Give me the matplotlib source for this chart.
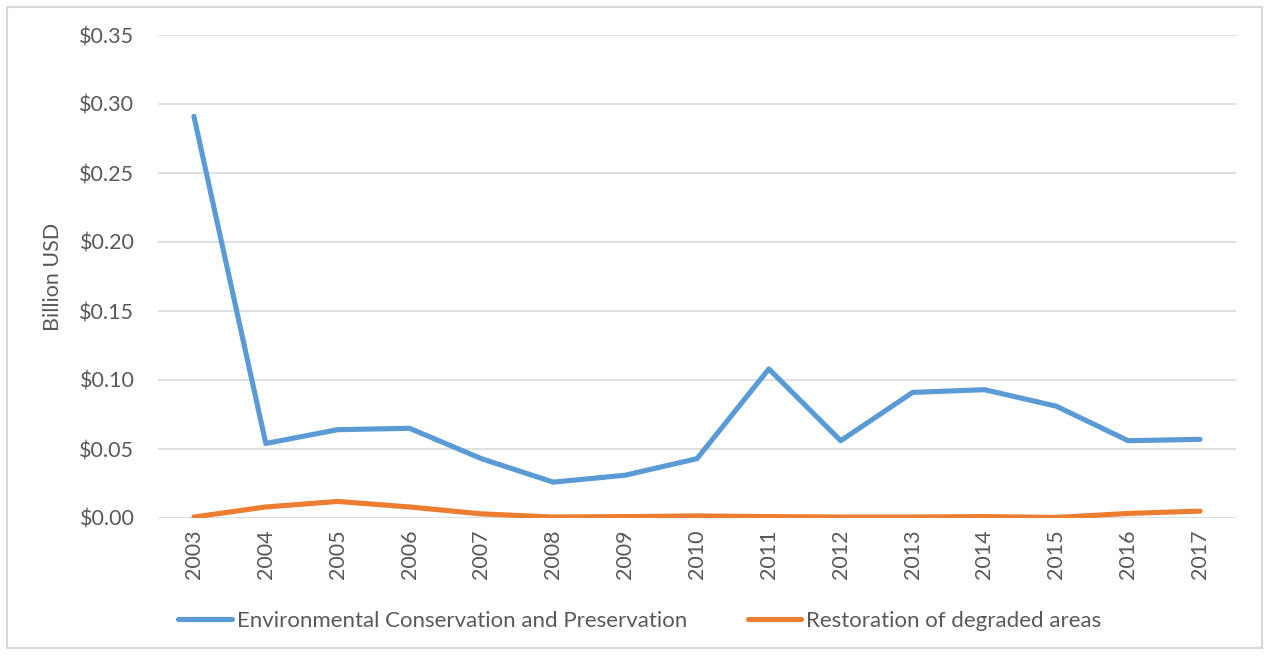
import matplotlib.pyplot as plt
from matplotlib.patches import Rectangle

years = ['2003', '2004', '2005', '2006', '2007', '2008', '2009', '2010',
         '2011', '2012', '2013', '2014', '2015', '2016', '2017']
conservation = [0.291, 0.054, 0.064, 0.065, 0.043, 0.026, 0.031, 0.043,
                0.108, 0.056, 0.091, 0.093, 0.081, 0.056, 0.057]
restoration = [0.0007, 0.008, 0.012, 0.008, 0.003, 0.0007, 0.001, 0.0015,
               0.001, 0.0007, 0.0007, 0.001, 0.0004, 0.0033, 0.005]
y_ticks = [0.0, 0.05, 0.10, 0.15, 0.20, 0.25, 0.30, 0.35]

plt.rcParams['font.family'] = ['Lato', 'DejaVu Sans']
grey = '#595959'
fs = 15.5

fig = plt.figure(figsize=(12.65, 6.56), dpi=100)
fig.patches.append(Rectangle((7 / 1265, 1 - 648 / 656), 1255 / 1265, 641 / 656,
                             transform=fig.transFigure, fill=False,
                             edgecolor='#D9D9D9', linewidth=1.5))
ax = fig.add_axes([158 / 1265, 1 - 518 / 656, 1078 / 1265, 483 / 656])

x = range(len(years))
ax.plot(x, conservation, color='#5B9BD5', linewidth=3.7, solid_capstyle='round',
        label='Environmental Conservation and Preservation')
ax.plot(x, restoration, color='#ED7D31', linewidth=3.7, solid_capstyle='round',
        label='Restoration of degraded areas')

ax.set_xlim(-0.5, len(years) - 0.5)
ax.set_ylim(0, 0.35)
ax.set_yticks(y_ticks)
ax.set_yticklabels(['${:.2f}'.format(v) for v in y_ticks])
ax.set_xticks(list(x))
ax.set_xticklabels(years, rotation=90)
ax.tick_params(axis='both', length=0, labelsize=fs, colors=grey)
ax.tick_params(axis='y', pad=17)
ax.tick_params(axis='x', pad=8)
ax.grid(axis='y', color='#D9D9D9', linewidth=1.2)
ax.set_axisbelow(True)
for s in ax.spines.values():
    s.set_visible(False)
ax.set_ylabel('Billion USD', fontsize=fs, color=grey, labelpad=12)

# legend row under the year labels
ax.legend(loc='center', bbox_to_anchor=(640 / 1265, 1 - 621 / 656), bbox_transform=fig.transFigure,
          ncol=2, frameon=False, fontsize=16, labelcolor=grey, handlelength=2.4,
          handletextpad=0.25, columnspacing=2.7)

fig.savefig('out.png', dpi=100)
